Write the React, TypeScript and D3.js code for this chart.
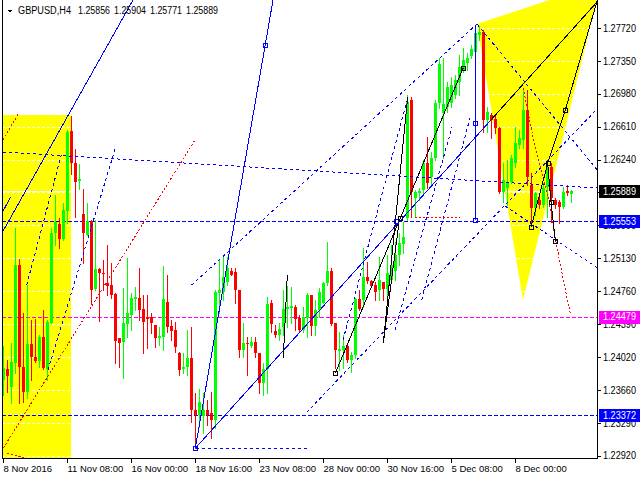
import React from "react";
import * as d3 from "d3";

type Pt = [number, number];

const symbolTitle = "GBPUSD,H4";
const lastBarOHLC = ["1.25856", "1.25904", "1.25771", "1.25889"];

const timeLabels = ["8 Nov 2016", "11 Nov 08:00", "16 Nov 00:00", "18 Nov 16:00", "23 Nov 08:00", "28 Nov 00:00", "30 Nov 16:00", "5 Dec 08:00", "8 Dec 00:00"];
const timeLabelBars = [0, 16, 32, 48, 64, 80, 96, 112, 128];

const priceTickLabels = ["1.27720", "1.27350", "1.26980", "1.26610", "1.26240", "1.25870", "1.25500", "1.25130", "1.24760", "1.24390", "1.24020", "1.23660", "1.23290", "1.22920"];
const priceTickValues = [1.2772, 1.27351, 1.26982, 1.26612, 1.26243, 1.25874, 1.25505, 1.25135, 1.24766, 1.24397, 1.24028, 1.23658, 1.23289, 1.2292];

const opens = [1.23769,1.23893,1.23691,1.23960,1.25060,1.23915,1.23635,1.24173,1.24027,1.23983,1.24252,1.23893,1.24409,1.25419,1.25520,1.25352,1.25666,1.26564,1.26205,1.26003,1.25632,1.25397,1.25554,1.24791,1.25015,1.24970,1.24858,1.24835,1.24734,1.24241,1.24196,1.24398,1.24499,1.24678,1.24690,1.24566,1.24476,1.24476,1.24387,1.24241,1.24252,1.24645,1.24375,1.24330,1.24072,1.23893,1.23915,1.24016,1.23433,1.23376,1.23365,1.23433,1.23399,1.23320,1.24746,1.24757,1.24869,1.24993,1.24981,1.24779,1.24106,1.24185,1.24151,1.24196,1.24072,1.23736,1.23893,1.24633,1.24319,1.24274,1.24364,1.24566,1.24577,1.24589,1.24465,1.24330,1.24465,1.24723,1.24375,1.24555,1.24633,1.24858,1.24993,1.24409,1.24095,1.24106,1.24151,1.23994,1.24050,1.24678,1.24667,1.24925,1.24880,1.24835,1.24779,1.24869,1.24791,1.24892,1.24993,1.25172,1.25296,1.25587,1.26912,1.25812,1.25868,1.25902,1.26205,1.26048,1.26261,1.26878,1.26766,1.26833,1.26878,1.26968,1.27114,1.27248,1.27327,1.27406,1.27450,1.27641,1.27675,1.26687,1.26743,1.26698,1.26598,1.25879,1.25924,1.25991,1.26205,1.26407,1.26463,1.26800,1.25958,1.25700,1.25789,1.25733,1.25935,1.26160,1.25789,1.25767,1.25711,1.25890,1.25856];
const highs = [1.24151,1.23994,1.24185,1.25475,1.25127,1.24521,1.24835,1.24443,1.24454,1.24274,1.24555,1.24443,1.25475,1.25846,1.25587,1.25756,1.26575,1.26732,1.26362,1.26193,1.25913,1.25756,1.25565,1.25565,1.25026,1.25116,1.25284,1.25082,1.24746,1.24241,1.24802,1.25138,1.24746,1.24813,1.25026,1.24723,1.24723,1.24521,1.24387,1.24364,1.25049,1.24948,1.24443,1.24420,1.24084,1.24072,1.24330,1.24364,1.23623,1.23668,1.23623,1.23545,1.23635,1.24779,1.25116,1.25172,1.25150,1.25026,1.25026,1.24779,1.24409,1.24252,1.24252,1.24252,1.24072,1.23960,1.24701,1.24667,1.24387,1.24409,1.24779,1.24824,1.24813,1.24611,1.24499,1.24589,1.24746,1.24723,1.24667,1.24802,1.24869,1.25318,1.25026,1.24409,1.24308,1.24274,1.24162,1.24084,1.24690,1.24779,1.25251,1.25094,1.24892,1.24869,1.25150,1.24869,1.25172,1.25284,1.25318,1.25419,1.25543,1.26968,1.26945,1.25902,1.25924,1.26238,1.26496,1.26328,1.26912,1.27383,1.27383,1.27114,1.27170,1.27192,1.27417,1.27495,1.27439,1.27529,1.27753,1.27742,1.27697,1.26833,1.26766,1.26743,1.26609,1.26205,1.26238,1.26294,1.26609,1.26575,1.27046,1.27024,1.26092,1.25879,1.25823,1.25980,1.26205,1.26205,1.25812,1.25789,1.25935,1.25958,1.25904];
const lows = [1.23601,1.23635,1.23511,1.23848,1.23511,1.23522,1.23567,1.23769,1.23971,1.23915,1.23893,1.23769,1.24409,1.25284,1.25251,1.25341,1.25531,1.26081,1.25599,1.25913,1.25082,1.25397,1.24622,1.24779,1.24431,1.24779,1.24723,1.24690,1.23960,1.23915,1.23792,1.24252,1.24330,1.24555,1.24443,1.24072,1.24128,1.24297,1.24140,1.24162,1.24106,1.24308,1.24218,1.24084,1.23825,1.23848,1.23825,1.23298,1.23006,1.23242,1.23174,1.23264,1.23118,1.23231,1.24521,1.24667,1.24835,1.24948,1.24633,1.24027,1.24027,1.23825,1.24140,1.24027,1.23623,1.23601,1.23623,1.24308,1.24252,1.24218,1.24274,1.24364,1.24409,1.24330,1.24308,1.24308,1.24252,1.24274,1.24274,1.24476,1.24633,1.24835,1.24387,1.23904,1.23881,1.23904,1.23971,1.23859,1.24016,1.24555,1.24589,1.24858,1.24813,1.24667,1.24667,1.24667,1.24667,1.24858,1.24892,1.25060,1.25195,1.25565,1.25599,1.25599,1.25789,1.25868,1.25924,1.25958,1.26238,1.26822,1.26261,1.26777,1.26833,1.26934,1.26968,1.27226,1.27248,1.27383,1.27417,1.27585,1.26553,1.26553,1.26485,1.26541,1.25868,1.25767,1.25733,1.25980,1.26160,1.26373,1.26373,1.25958,1.25531,1.25621,1.25700,1.25711,1.25599,1.25543,1.25700,1.25531,1.25700,1.25846,1.25771];
const closes = [1.23904,1.23814,1.23971,1.25060,1.23915,1.23635,1.24173,1.24027,1.23983,1.24252,1.23904,1.24420,1.25419,1.25543,1.25352,1.25677,1.26553,1.26205,1.25991,1.26025,1.25419,1.25554,1.24779,1.25015,1.24970,1.24959,1.24824,1.24723,1.24207,1.24185,1.24409,1.24521,1.24690,1.24701,1.24555,1.24420,1.24454,1.24409,1.24241,1.24263,1.24678,1.24364,1.24319,1.24140,1.23881,1.23915,1.24016,1.23433,1.23376,1.23522,1.23433,1.23376,1.23320,1.24757,1.24779,1.24925,1.25026,1.24948,1.24779,1.24106,1.24185,1.24173,1.24196,1.24072,1.23736,1.23893,1.24622,1.24398,1.24274,1.24342,1.24566,1.24589,1.24600,1.24454,1.24330,1.24476,1.24723,1.24375,1.24555,1.24757,1.24858,1.24993,1.24398,1.24106,1.24117,1.24151,1.23994,1.24050,1.24678,1.24566,1.24925,1.24880,1.24824,1.24757,1.24892,1.24791,1.24970,1.25060,1.25172,1.25307,1.25374,1.26889,1.25879,1.25879,1.25890,1.26205,1.25980,1.26261,1.26878,1.27316,1.26867,1.27058,1.27080,1.27136,1.27282,1.27361,1.27383,1.27484,1.27664,1.27675,1.26687,1.26777,1.26687,1.26598,1.25879,1.26014,1.25991,1.26261,1.26429,1.26485,1.26800,1.26048,1.25700,1.25868,1.25733,1.25924,1.26160,1.25812,1.25733,1.25711,1.25879,1.25868,1.25889];

const levelPrices = [1.25553, 1.24479, 1.23372];
const levelLabels = ["1.25553", "1.24479", "1.23372"];
const bidPrice = 1.25889;
const bidLabel = "1.25889";

// drawn objects, in [bar index, price]
const yellowRect: Pt[] = [[-1, 1.26743], [16.9, 1.2200]];
const yellowTriangle: Pt[] = [[118.5, 1.27765], [130, 1.24667], [149.5, 1.28225]];

const blueSolidLines: Pt[][] = [
  [[-0.075, 1.25434], [32.5, 1.28034]],
  [[-0.075, 1.25658], [1.925, 1.25826]],
  [[48.075, 1.23003], [67.5, 1.28034]],
  [[48.075, 1.23003], [121.75, 1.26676]],
  [[118, 1.27753], [118, 1.25565]],
];
const blackLines: Pt[][] = [
  [[121.75, 1.26676], [149.25, 1.28049]],
  [[83.075, 1.23845], [115.075, 1.27274]],
  [[95.075, 1.24181], [101.175, 1.26949]],
  [[95.075, 1.24181], [99.075, 1.25565]],
  [[70.075, 1.24016], [71.075, 1.24948]],
  [[132, 1.25483], [136.175, 1.26201], [140.575, 1.268], [148.75, 1.28056]],
  [[136.175, 1.26201], [137, 1.25767], [138.075, 1.25329]],
];
const redDottedLines: Pt[][] = [
  [[0.075, 1.23006], [48, 1.26463]],
  [[-0.075, 1.26463], [3.825, 1.26755]],
  [[1, 1.2295], [5.5, 1.22894]],
  [[103, 1.25595], [114.25, 1.25595]],
  [[130.075, 1.27043], [133, 1.26388], [136.325, 1.25826], [138, 1.25377], [140.075, 1.24892], [141.925, 1.24499]],
];
const blueDottedLines: Pt[][] = [
  [[0, 1.26328], [148.5, 1.25924]],
  [[47.175, 1.24836], [118.5, 1.27765]],
  [[75.925, 1.23407], [150, 1.26881]],
  [[118.5, 1.27765], [150, 1.26048]],
  [[125.5, 1.25722], [150, 1.24987]],
  [[48.25, 1.23006], [76.25, 1.23006]],
  [[11.25, 1.23881], [28.25, 1.26395]],
  [[5.925, 1.24836], [14.675, 1.26313]],
  [[85, 1.24218], [101.25, 1.26945]],
  [[98, 1.2433], [112.25, 1.26609]],
  [[104.675, 1.24667], [116.75, 1.2671]],
];
const blueSquares: Pt[] = [[48.075, 1.23003], [65.5, 1.27529], [118, 1.26654], [118, 1.25565], [98.25, 1.25554]];
const blackSquares: Pt[] = [[83.075, 1.23845], [99.25, 1.25587], [115.075, 1.27274], [132, 1.25483], [136.175, 1.26201], [137, 1.25767], [138.075, 1.25329], [140.575, 1.268]];

const FONT = "'Liberation Sans', Arial, sans-serif";

export default function App() {
  const L = 2, R = 597, T = 0, B = 458;
  const x = d3.scaleLinear().domain([0, 148.5]).range([3, 597]);
  const y = d3.scaleLinear().domain([1.2292, 1.2772]).range([455.7, 28]);
  const line = d3.line<Pt>().x((d) => x(d[0])).y((d) => y(d[1]));
  const levelColors = ["#0000ff", "#ff00ff", "#0000ff"];
  const px = (v: number) => Math.round(v);

  const candles = opens.map((o, i) => {
    const c = closes[i];
    const up = c >= o;
    const col = up ? "#00ff00" : "#ff0000";
    const cx = px(x(i));
    const yTop = px(y(Math.max(o, c)));
    const yBot = px(y(Math.min(o, c)));
    return (
      <g key={i}>
        <line x1={cx + 0.5} x2={cx + 0.5} y1={px(y(highs[i]))} y2={px(y(lows[i])) + 1} stroke={col} strokeWidth={1} />
        <rect x={cx - 1} y={yTop} width={3} height={Math.max(1, yBot - yTop)} fill={col} />
      </g>
    );
  });

  const headerParts = [symbolTitle, ...lastBarOHLC];
  const headerX = [18, 78, 114, 150, 186];
  const headerW = [53, 32, 32, 32, 32];

  return (
    <svg width={640} height={480} style={{ position: "absolute", left: 0, top: 0, background: "#ffffff" }} shapeRendering="crispEdges">
      <defs>
        <clipPath id="plot">
          <rect x={L + 1} y={T} width={R - L - 1} height={B - T} />
        </clipPath>
      </defs>
      <rect x={0} y={0} width={640} height={480} fill="#ffffff" />
      <g clipPath="url(#plot)">
        <rect x={x(yellowRect[0][0])} y={y(yellowRect[0][1])} width={x(yellowRect[1][0]) - x(yellowRect[0][0])} height={y(yellowRect[1][1]) - y(yellowRect[0][1])} fill="#ffff00" />
        <path d={line(yellowTriangle) + "Z"} fill="#ffff00" shapeRendering="auto" />
        {priceTickValues.map((v, k) => (
          <line key={k} x1={L} x2={R} y1={px(y(v)) + 0.5} y2={px(y(v)) + 0.5} stroke="#ffffff" strokeDasharray="3,2" />
        ))}
        <line x1={L} x2={R} y1={px(y(bidPrice)) + 0.5} y2={px(y(bidPrice)) + 0.5} stroke="#ffffff" />
        {levelPrices.map((v, k) => (
          <line key={k} x1={L} x2={R} y1={px(y(v)) + 0.5} y2={px(y(v)) + 0.5} stroke={levelColors[k]} strokeDasharray="4,2" />
        ))}
        {candles}
        {blueDottedLines.map((d, k) => (
          <path key={k} d={line(d) || ""} fill="none" stroke="#0000ff" strokeDasharray="3,3" />
        ))}
        {redDottedLines.map((d, k) => (
          <path key={k} d={line(d) || ""} fill="none" stroke="#ff0000" strokeDasharray="2,2" />
        ))}
        {blueSolidLines.map((d, k) => (
          <path key={k} d={line(d) || ""} fill="none" stroke="#0000ff" />
        ))}
        {blackLines.map((d, k) => (
          <path key={k} d={line(d) || ""} fill="none" stroke="#000000" />
        ))}
        {blueSquares.map((d, k) => (
          <rect key={k} x={px(x(d[0])) - 2 + 0.5} y={px(y(d[1])) - 2 + 0.5} width={4} height={4} fill="none" stroke="#0000ff" />
        ))}
        {blackSquares.map((d, k) => (
          <rect key={k} x={px(x(d[0])) - 2 + 0.5} y={px(y(d[1])) - 2 + 0.5} width={4} height={4} fill="none" stroke="#000000" />
        ))}
      </g>
      <line x1={L + 0.5} x2={L + 0.5} y1={T} y2={B + 1} stroke="#000" />
      <line x1={R + 0.5} x2={R + 0.5} y1={T} y2={B + 1} stroke="#000" />
      <line x1={L} x2={R + 1} y1={B + 0.5} y2={B + 0.5} stroke="#000" />
      {priceTickValues.map((v, k) => (
        <g key={k}>
          <line x1={R} x2={R + 4} y1={px(y(v)) + 0.5} y2={px(y(v)) + 0.5} stroke="#000" />
          <text x={603} y={y(v) + 3.7} fontFamily={FONT} fontSize={10} textLength={33} lengthAdjust="spacingAndGlyphs" fill="#000">{priceTickLabels[k]}</text>
        </g>
      ))}
      {levelPrices.map((v, k) => (
        <g key={k}>
          <rect x={599} y={px(y(v)) - 6} width={41} height={13} fill={levelColors[k]} />
          <text x={603} y={y(v) + 3.7} fontFamily={FONT} fontSize={10} textLength={33} lengthAdjust="spacingAndGlyphs" fill="#fff">{levelLabels[k]}</text>
        </g>
      ))}
      <rect x={599} y={px(y(bidPrice)) - 6} width={41} height={13} fill="#000" />
      <text x={603} y={y(bidPrice) + 3.7} fontFamily={FONT} fontSize={10} textLength={33} lengthAdjust="spacingAndGlyphs" fill="#fff">{bidLabel}</text>
      {timeLabelBars.map((b, k) => (
        <g key={k}>
          <line x1={px(x(b)) + 0.5} x2={px(x(b)) + 0.5} y1={B} y2={B + 5} stroke="#000" />
          <text x={px(x(b)) + 0.5} y={471.5} fontFamily={FONT} fontSize={9.5} fill="#000">{timeLabels[k]}</text>
        </g>
      ))}
      <path d="M7,9.5 L13,9.5 L10,12.5 Z" fill="#000" />
      {headerParts.map((s, k) => (
        <text key={k} x={headerX[k]} y={14} fontFamily={FONT} fontSize={10} textLength={headerW[k]} lengthAdjust="spacingAndGlyphs" fill="#000">{s}</text>
      ))}
    </svg>
  );
}
